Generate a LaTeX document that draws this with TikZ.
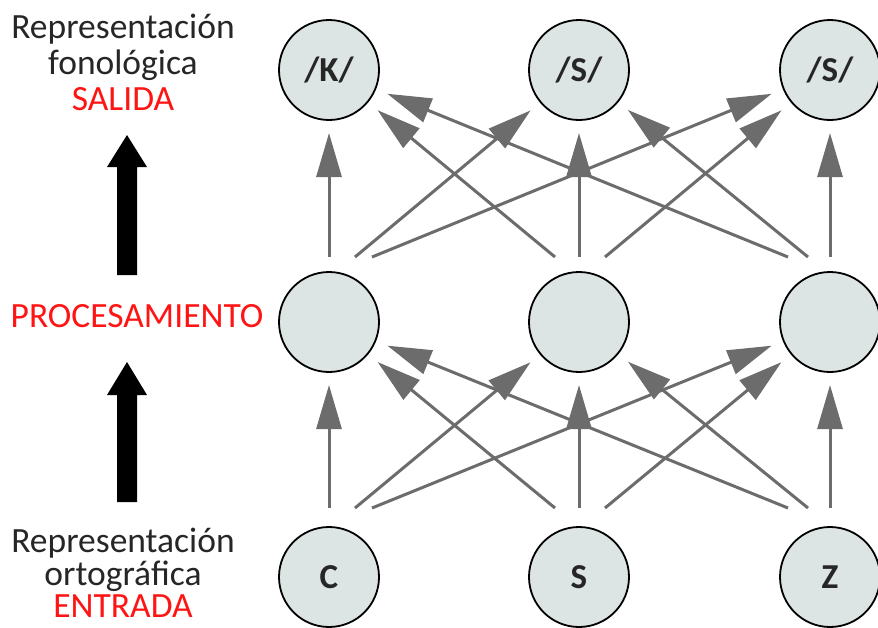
\documentclass[tikz,border=0pt]{standalone}
\usepackage{fontspec}
\setmainfont{Carlito}
\usetikzlibrary{arrows.meta,calc}
\definecolor{circfill}{RGB}{221,228,228}
\definecolor{arrgray}{RGB}{108,108,108}
\definecolor{labred}{RGB}{255,20,20}
\tikzset{
  neuron/.style={circle, draw=black, line width=1.8pt, fill=circfill, minimum size=100pt, inner sep=0pt, outer sep=0pt,
    font=\fontsize{35}{35}\selectfont\bfseries, text=black!85},
  conn/.style={draw=arrgray, line width=3pt, -{Triangle[length=44pt,width=25pt]}, shorten >=13pt},
  lefttext/.style={anchor=base, inner sep=0pt, font=\fontsize{35.5}{36}\selectfont, text=black!85},
  redtext/.style={lefttext, text=labred},
  bigarrow/.style={fill=black}
}
\begin{document}
\begin{tikzpicture}[x=1pt,y=-1pt]
\useasboundingbox (0,0) rectangle (878,627);
% nodes
\node[neuron] (t1) at (329,70) {/K/};
\node[neuron] (t2) at (579,70) {/S/};
\node[neuron] (t3) at (830,70) {/S/};
\node[neuron] (m1) at (329,322) {};
\node[neuron] (m2) at (579,322) {};
\node[neuron] (m3) at (830,322) {};
\node[neuron] (b1) at (329,577) {C};
\node[neuron] (b2) at (579,577) {S};
\node[neuron] (b3) at (830,577) {Z};
% connectors middle -> top
\draw[conn] ($(m1)+(0,-65)$) -- (t1);
\draw[conn] ($(m1)+(26,-65)$) -- (t2);
\draw[conn] ($(m1)+(43,-65)$) -- (t3);
\draw[conn] ($(m2)+(-24,-65)$) -- (t1);
\draw[conn] ($(m2)+(0,-65)$) -- (t2);
\draw[conn] ($(m2)+(26,-65)$) -- (t3);
\draw[conn] ($(m3)+(-42,-65)$) -- (t1);
\draw[conn] ($(m3)+(-22,-65)$) -- (t2);
\draw[conn] ($(m3)+(0,-65)$) -- (t3);
% connectors bottom -> middle
\draw[conn] ($(b1)+(0,-69)$) -- (m1);
\draw[conn] ($(b1)+(26,-69)$) -- (m2);
\draw[conn] ($(b1)+(43,-69)$) -- (m3);
\draw[conn] ($(b2)+(-24,-69)$) -- (m1);
\draw[conn] ($(b2)+(0,-69)$) -- (m2);
\draw[conn] ($(b2)+(26,-69)$) -- (m3);
\draw[conn] ($(b3)+(-42,-69)$) -- (m1);
\draw[conn] ($(b3)+(-22,-69)$) -- (m2);
\draw[conn] ($(b3)+(0,-69)$) -- (m3);
% left labels
\node[lefttext] (out1) at (123,38) {Representación};
\node[lefttext] (out2) at (123,74) {fonológica};
\node[redtext] (out3) at (123,110) {SALIDA};
\node[redtext] (proc) at (137,327) {PROCESAMIENTO};
\node[lefttext] (in1) at (123,552) {Representación};
\node[lefttext] (in2) at (123,585) {ortográfica};
\node[redtext] (in3) at (123,617) {ENTRADA};
% big black arrows
\fill[bigarrow] (117,275) -- (117,167) -- (107,167) -- (127,135) -- (147,167) -- (137,167) -- (137,275) -- cycle;
\fill[bigarrow] (117,502) -- (117,395) -- (107,395) -- (127,362) -- (147,395) -- (137,395) -- (137,502) -- cycle;
\end{tikzpicture}
\end{document}
